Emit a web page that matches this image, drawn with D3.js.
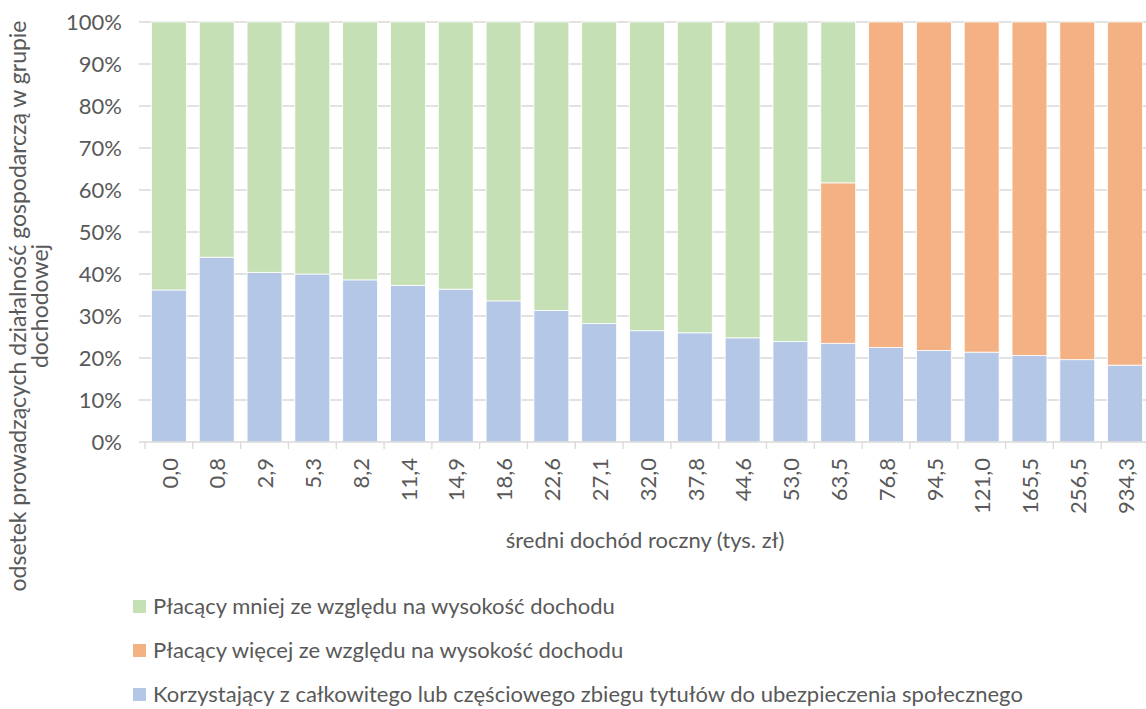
<!DOCTYPE html>
<html><head><meta charset="utf-8">
<script src="https://cdn.jsdelivr.net/npm/d3@7"></script>
<style>body{margin:0;background:#fff}svg{display:block}text{font-family:Lato,"Open Sans",sans-serif;fill:#595959}</style>
</head><body><svg id="c" width="1146" height="709"></svg>
<script>
const categories = ["0,0","0,8","2,9","5,3","8,2","11,4","14,9","18,6","22,6","27,1","32,0","37,8","44,6","53,0","63,5","76,8","94,5","121,0","165,5","256,5","934,3"];
const blueValues = [36.2,44.0,40.4,40.0,38.6,37.3,36.4,33.6,31.3,28.2,26.5,26.0,24.8,23.9,23.5,22.5,21.8,21.4,20.6,19.6,18.3];
const orangeValues = [0,0,0,0,0,0,0,0,0,0,0,0,0,0,38.2,77.5,78.2,78.6,79.4,80.4,81.7];
const greenValues = [63.8,56.0,59.6,60.0,61.4,62.7,63.6,66.4,68.7,71.8,73.5,74.0,75.2,76.1,38.3,0,0,0,0,0,0];
const yTicks = [0,10,20,30,40,50,60,70,80,90,100];
const seriesNames = ["Płacący mniej ze względu na wysokość dochodu","Płacący więcej ze względu na wysokość dochodu","Korzystający z całkowitego lub częściowego zbiegu tytułów do ubezpieczenia społecznego"];
const yTitle1 = "odsetek prowadzących działalność gospodarczą w grupie";
const yTitle2 = "dochodowej";
const xTitle = "średni dochód roczny (tys. zł)";

const colors = {blue:"#B4C7E7", orange:"#F4B183", green:"#C5E0B4"};
const svg = d3.select("#c");
const x = d3.scaleBand().domain(categories).range([145,1149]).paddingInner(0.27).paddingOuter(0.135);
const y = d3.scaleLinear().domain([0,100]).range([442,22]);
const FS = 22;

// gridlines
svg.append("g").selectAll("line").data(yTicks.filter(d=>d>0)).join("line")
  .attr("x1",139).attr("x2",1146).attr("y1",d=>y(d)).attr("y2",d=>y(d))
  .attr("stroke","#d9d9d9").attr("stroke-width",1.3);

const rows = categories.map((c,i)=>({c, blue:blueValues[i], orange:orangeValues[i], green:greenValues[i]}));
const stack = d3.stack().keys(["blue","orange","green"])(rows);
svg.append("g").selectAll("g").data(stack).join("g").attr("fill",d=>colors[d.key])
  .selectAll("rect").data(d=>d).join("rect")
  .attr("x",d=>x(d.data.c)).attr("width",x.bandwidth())
  .attr("y",d=>y(d[1])).attr("height",d=>Math.max(0,y(d[0])-y(d[1])))
  .attr("stroke","#fff").attr("stroke-width",0.8);

// x axis line + ticks between categories
svg.append("line").attr("x1",139).attr("x2",1146).attr("y1",442).attr("y2",442).attr("stroke","#d9d9d9").attr("stroke-width",1.3);
const step = x.step();
svg.append("g").selectAll("line").data(d3.range(categories.length+1)).join("line")
  .attr("x1",i=>145+i*step).attr("x2",i=>145+i*step).attr("y1",442).attr("y2",449)
  .attr("stroke","#d9d9d9").attr("stroke-width",1.3);

// y axis labels
svg.append("g").selectAll("text").data(yTicks).join("text")
  .attr("x",122).attr("y",d=>y(d)).attr("dy","0.35em").attr("text-anchor","end")
  .attr("font-size",FS).text(d=>d+"%");

// x labels rotated
svg.append("g").selectAll("text").data(categories).join("text")
  .attr("transform",d=>`translate(${x(d)+x.bandwidth()/2+1},458) rotate(-90)`)
  .attr("text-anchor","end").attr("dy","0.35em").attr("font-size",FS).text(d=>d);

// axis titles
svg.append("text").attr("x",645).attr("y",548).attr("text-anchor","middle").attr("font-size",FS).text(xTitle);
svg.append("text").attr("transform","translate(26,306) rotate(-90)").attr("text-anchor","middle").attr("font-size",23).text(yTitle1);
svg.append("text").attr("transform","translate(48,306) rotate(-90)").attr("text-anchor","middle").attr("font-size",23).text(yTitle2);

// legend
const legendColors = [colors.green, colors.orange, colors.blue];
const lg = svg.append("g").selectAll("g").data(seriesNames).join("g")
  .attr("transform",(d,i)=>`translate(133,${606+i*44})`);
lg.append("rect").attr("x",0).attr("y",-6).attr("width",13).attr("height",13).attr("fill",(d,i)=>legendColors[i]);
lg.append("text").attr("x",20).attr("dy","0.35em").attr("font-size",FS).text(d=>d);
</script></body></html>
